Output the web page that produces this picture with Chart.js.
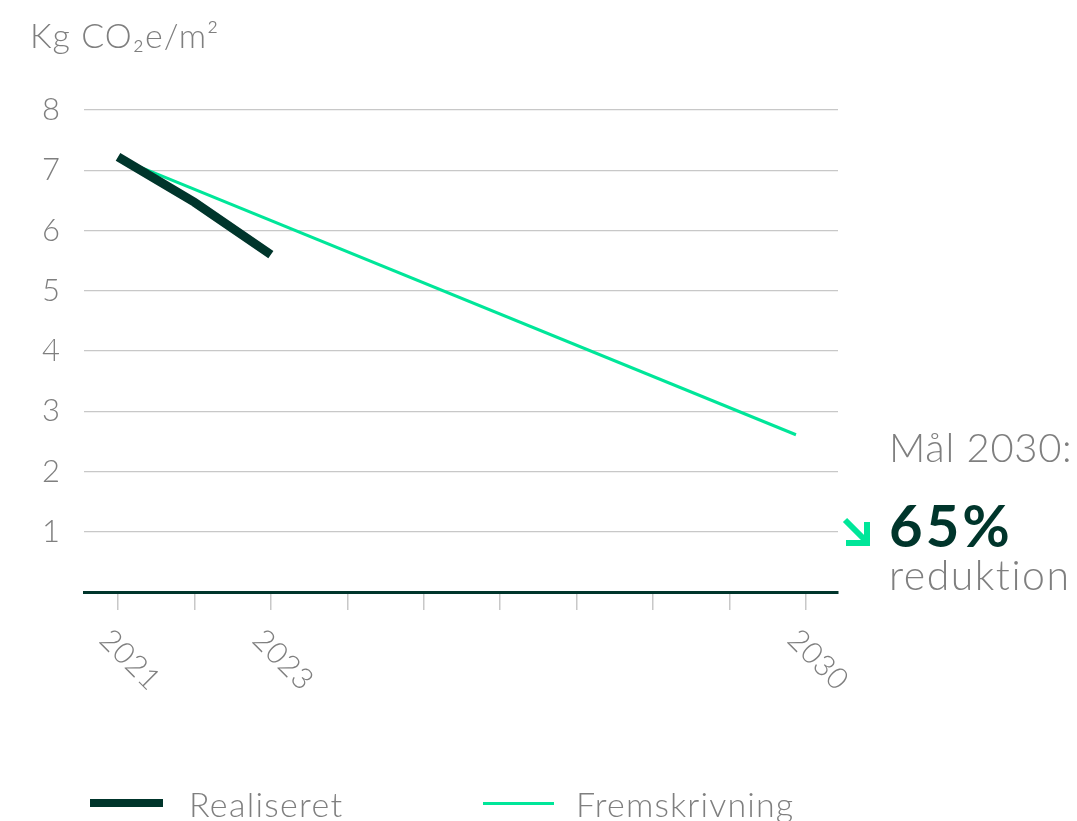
<!DOCTYPE html>
<html>
<head>
<meta charset="utf-8">
<script src="https://cdn.jsdelivr.net/npm/chart.js@4.4.1/dist/chart.umd.min.js"></script>
<style>
  html, body { margin: 0; padding: 0; background: #fff; }
  #wrap { width: 1077px; height: 821px; position: relative; }
</style>
</head>
<body>
<div id="wrap"><canvas id="co2Chart" width="1077" height="821"></canvas></div>
<script>
// ===== Data =====
const years = [2021, 2022, 2023, 2024, 2025, 2026, 2027, 2028, 2029, 2030];
const shownYears = [2021, 2023, 2030];
const realiseretYears = [2021, 2022, 2023];
const realiseretValues = [7.22, 6.47, 5.6];
const fremYears = [2021, 2029.87];
const fremValues = [7.2, 2.61];
const yTicks = [1, 2, 3, 4, 5, 6, 7, 8];

const DARK = '#00352b';
const GREEN = '#00e699';
const GREY = '#7f7f7f';
const FONT = 'Lato, "Open Sans", sans-serif';

function spaced(c, txt, x, y, sp) {
  c.letterSpacing = sp + 'px';
  c.fillText(txt, x, y);
  c.letterSpacing = '0px';
}

// ===== Extra texts: title, x labels, target note, legend =====
const extras = {
  id: 'extras',
  afterDraw(chart) {
    const c = chart.ctx;
    const x = chart.scales.x;
    c.save();
    c.fillStyle = GREY;
    c.font = '300 34px ' + FONT;
    c.textBaseline = 'alphabetic';
    c.textAlign = 'left';
    spaced(c, 'Kg CO₂e/m²', 30, 48, 1);

    // rotated year labels
    c.font = '300 30px ' + FONT;
    shownYears.forEach(y => {
      const px = x.getPixelForValue(y);
      c.save();
      c.translate(px + 12, 660);
      c.rotate(Math.PI / 4);
      c.textAlign = 'center';
      c.textBaseline = 'middle';
      spaced(c, String(y), 0, 0, 0.5);
      c.restore();
    });

    // target note
    c.textAlign = 'left';
    c.font = '300 40px ' + FONT;
    spaced(c, 'Mål 2030:', 889, 462, 0.7);
    c.fillStyle = DARK;
    c.font = 'bold 58px ' + FONT;
    spaced(c, '65%', 889, 547, 3);
    c.fillStyle = GREY;
    c.font = '300 41px ' + FONT;
    spaced(c, 'reduktion', 889, 590, 1.5);

    // arrow
    c.strokeStyle = GREEN;
    c.lineWidth = 6;
    c.lineJoin = 'miter';
    c.beginPath();
    c.moveTo(845, 520);
    c.lineTo(866, 541);
    c.stroke();
    c.beginPath();
    c.moveTo(867, 522);
    c.lineTo(867, 543);
    c.lineTo(846, 543);
    c.stroke();

    // legend
    c.fillStyle = DARK;
    c.fillRect(90, 799, 73, 8);
    c.fillStyle = GREEN;
    c.fillRect(483, 802, 71, 3);
    c.fillStyle = GREY;
    c.font = '300 34px ' + FONT;
    spaced(c, 'Realiseret', 189, 817, 1.3);
    spaced(c, 'Fremskrivning', 576, 817, 1.15);
    c.restore();
  }
};

const ctx = document.getElementById('co2Chart').getContext('2d');
const chart = new Chart(ctx, {
  type: 'line',
  data: {
    datasets: [
      {
        label: 'Fremskrivning',
        data: fremYears.map((y, i) => ({ x: y, y: fremValues[i] })),
        borderColor: GREEN,
        borderWidth: 3,
        pointRadius: 0,
        order: 2
      },
      {
        label: 'Realiseret',
        data: realiseretYears.map((y, i) => ({ x: y, y: realiseretValues[i] })),
        borderColor: DARK,
        borderWidth: 9,
        pointRadius: 0,
        borderCapStyle: 'butt',
        order: 1
      }
    ]
  },
  options: {
    responsive: false,
    animation: false,
    layout: { padding: { top: 110, right: 239, left: 0, bottom: 0 } },
    plugins: { legend: { display: false }, tooltip: { enabled: false } },
    scales: {
      x: {
        type: 'linear',
        min: 2020.555,
        max: 2030.42,
        afterBuildTicks: s => { s.ticks = years.map(v => ({ value: v })); },
        afterFit: s => { s.height = 821 - 592; },
        ticks: { display: false },
        grid: { drawOnChartArea: false, drawTicks: true, tickLength: 18, color: '#c8c8c8', lineWidth: 1.5 },
        border: { display: true, color: DARK, width: 3 }
      },
      y: {
        min: 0,
        max: 8,
        afterBuildTicks: s => { s.ticks = [0].concat(yTicks).map(v => ({ value: v })); },
        afterFit: s => { s.width = 84; },
        ticks: {
          padding: 24,
          color: GREY,
          font: { family: FONT, size: 31, weight: 300 },
          callback: v => (v === 0 ? '' : v)
        },
        grid: {
          drawTicks: false,
          color: c => (c.tick && c.tick.value === 0 ? 'rgba(0,0,0,0)' : '#c8c8c8'),
          lineWidth: 1.2
        },
        border: { display: false }
      }
    }
  },
  plugins: [extras]
});
</script>
</body>
</html>
